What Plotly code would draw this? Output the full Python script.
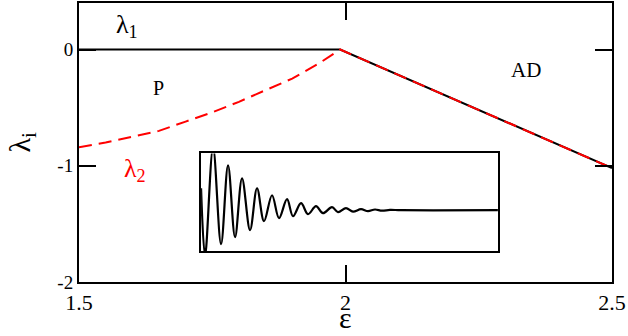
import plotly.graph_objects as go

# main panel: Lyapunov exponents vs coupling
eps = [1.50, 1.55, 1.60, 1.65, 1.70, 1.75, 1.80, 1.85, 1.90, 1.95, 1.99, 2.50]
lam1 = [0.0, 0.0, 0.0, 0.0, 0.0, 0.0, 0.0, 0.0, 0.0, 0.0, 0.0, -1.02]
lam2 = [-0.84, -0.80, -0.75, -0.70, -0.62, -0.54, -0.45, -0.35, -0.25, -0.12, 0.0, -1.02]

# inset: damped oscillation (extrema)
inset_t = [0, 4, 12, 20, 27, 34, 41, 49, 56, 63, 71, 78, 86, 92, 100, 107, 115, 122,
           131, 137, 145, 152, 160, 167, 174, 181, 189, 200, 297]
inset_v = [22, -46, 63, -34, 45, -27, 32, -20, 22, -11, 15, -8, 11, -6, 7, -4, 4, -3,
           3, -2, 2, -1.5, 1, -1, 0.7, -0.5, 0.3, 0, 0]

x_ticks = [1.5, 2, 2.5]
x_ticktext = ["1.5", "2", "2.5"]
y_ticks = [-2, -1, 0]
y_ticktext = ["-2", "-1", "0"]

SERIF = "Liberation Serif"


def f(size, color="black"):
    return dict(family=SERIF, size=size, color=color)


fig = go.Figure()
fig.add_trace(go.Scatter(x=eps, y=lam1, mode="lines",
                         line=dict(color="black", width=2)))
fig.add_trace(go.Scatter(x=eps, y=lam2, mode="lines",
                         line=dict(color="#ff0000", width=2, dash="13px,7px")))
fig.add_trace(go.Scatter(x=inset_t, y=inset_v, mode="lines", xaxis="x2", yaxis="y2",
                         line=dict(color="black", width=2.2, shape="spline", smoothing=1.0)))

fig.update_layout(
    width=628, height=336,
    margin=dict(l=79, r=16, t=3, b=54, autoexpand=False),
    paper_bgcolor="white", plot_bgcolor="white",
    showlegend=False,
    font=f(19),
    xaxis=dict(range=[1.5, 2.5], tickvals=x_ticks, ticktext=x_ticktext,
               ticks="inside", ticklen=17, tickwidth=1.5, tickcolor="black",
               showline=True, linewidth=2, linecolor="black", mirror="ticks",
               showgrid=False, zeroline=False, tickfont=f(22), automargin=False),
    yaxis=dict(range=[-2, 0.4], tickvals=y_ticks, ticktext=y_ticktext,
               ticks="inside", ticklen=17, tickwidth=1.5, tickcolor="black",
               showline=True, linewidth=2, linecolor="black", mirror="ticks",
               showgrid=False, zeroline=False, tickfont=f(19), automargin=False),
    xaxis2=dict(domain=[0.229, 0.786], anchor="y2", range=[0, 297],
                showticklabels=False, ticks="", showgrid=False, zeroline=False,
                showline=True, linewidth=1.5, linecolor="black", mirror=True),
    yaxis2=dict(domain=[0.111, 0.461], anchor="x2", range=[-41, 57],
                showticklabels=False, ticks="", showgrid=False, zeroline=False,
                showline=True, linewidth=1.5, linecolor="black", mirror=True),
    annotations=[
        dict(x=0.5, y=-0.1948, xref="paper", yref="paper", text="ε", showarrow=False,
             font=f(30), yanchor="bottom"),
        dict(x=-0.148, y=0.5, xref="paper", yref="paper", text="λ<sub>i</sub>",
             showarrow=False, textangle=-90, font=f(30)),
        dict(x=1.59, y=0.2, text="λ<sub>1</sub>", showarrow=False, font=f(26)),
        dict(x=1.605, y=-1.04, text="λ<sub>2</sub>", showarrow=False,
             font=f(26, "#ff0000")),
        dict(x=1.65, y=-0.33, text="P", showarrow=False, font=f(20)),
        dict(x=2.339, y=-0.177, text="AD", showarrow=False, font=f(21)),
    ],
)

# the page body has a default 8px margin; drop it so the figure sits at (0, 0)
fig.write_html("out.html", config={"displayModeBar": False},
               post_script="document.body.style.margin='0';")
